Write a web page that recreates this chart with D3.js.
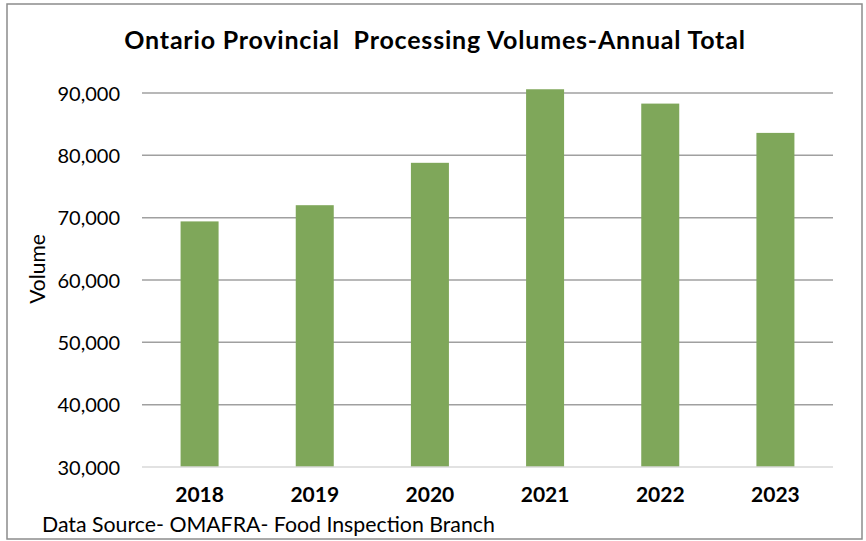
<!DOCTYPE html>
<html>
<head>
<meta charset="utf-8">
<script src="https://cdn.jsdelivr.net/npm/d3@7"></script>
<style>
  body { margin: 0; background: #fff; }
  text { font-family: Lato, "Open Sans", sans-serif; fill: #000; }
</style>
</head>
<body>
<script>
// chart data
var years = ["2018", "2019", "2020", "2021", "2022", "2023"];
var volumes = [69400, 72000, 78800, 90600, 88300, 83600];
var yTicks = [30000, 40000, 50000, 60000, 70000, 80000, 90000];

var width = 866;
var height = 541;
margin = ({top: 93, right: 33, bottom: 74, left: 142});

const svg = d3.select("body")
              .append("svg")
              .attr("width", width)
              .attr("height", height);

// outer frame
svg.append("rect")
   .attr("x", 7)
   .attr("y", 4)
   .attr("width", 855)
   .attr("height", 535)
   .style("fill", "#fff")
   .style("stroke", "#8c8c8c")
   .style("stroke-width", 1.5);

var xAxis = d3.scaleBand()
              .domain(years)
              .range([margin.left, width - margin.right])
              .paddingInner(0.67)
              .paddingOuter(0.335);

var yAxis = d3.scaleLinear()
              .domain([30000, 90000])
              .range([467, margin.top]);

// gridlines
svg.append("g")
   .selectAll("line")
   .data(yTicks.slice(1))
   .enter()
   .append("line")
   .attr("x1", margin.left)
   .attr("x2", width - margin.right)
   .attr("y1", function(d) { return yAxis(d); })
   .attr("y2", function(d) { return yAxis(d); })
   .style("stroke", "#a0a0a0")
   .style("stroke-width", 1.5);

// bars
svg.selectAll(".bar")
   .data(volumes)
   .enter()
   .append("rect")
   .attr("class", "bar")
   .attr("x", function(d, i) { return xAxis(years[i]); })
   .attr("width", xAxis.bandwidth())
   .attr("y", function(d) { return yAxis(d); })
   .attr("height", function(d) { return yAxis(30000) - yAxis(d); })
   .style("fill", "#7fa75a");

// bottom axis line
svg.append("line")
   .attr("x1", margin.left)
   .attr("x2", width - margin.right)
   .attr("y1", yAxis(30000))
   .attr("y2", yAxis(30000))
   .style("stroke", "#d9d9d9")
   .style("stroke-width", 1.5);

// y axis labels
var yg = svg.append("g")
   .attr("transform", "translate(" + margin.left + ",0)")
   .call(d3.axisLeft(yAxis).tickValues(yTicks).tickSize(0).tickPadding(22)
           .tickFormat(d3.format(",")));
yg.select(".domain").remove();
yg.selectAll("text").style("font-size", "20px").attr("dy", "0.35em");

// x axis labels
var xg = svg.append("g")
   .attr("transform", "translate(0," + yAxis(30000) + ")")
   .call(d3.axisBottom(xAxis).tickSize(0).tickPadding(0));
xg.select(".domain").remove();
xg.selectAll("text")
  .attr("y", 35)
  .attr("dy", null)
  .style("font-size", "21px")
  .style("font-weight", "bold");

// title
svg.append("text")
   .attr("x", 435)
   .attr("y", 49)
   .attr("text-anchor", "middle")
   .style("font-size", "25px")
   .style("font-weight", "bold")
   .style("letter-spacing", "0.8px")
   .text("Ontario Provincial\u00a0 Processing Volumes-Annual Total");

// y axis title
svg.append("text")
   .attr("transform", "translate(45,269) rotate(-90)")
   .attr("text-anchor", "middle")
   .style("font-size", "21px")
   .text("Volume");

// source note
svg.append("text")
   .attr("x", 42)
   .attr("y", 532)
   .style("font-size", "21.3px")
   .text("Data Source- OMAFRA- Food Inspection Branch");
</script>
</body>
</html>
